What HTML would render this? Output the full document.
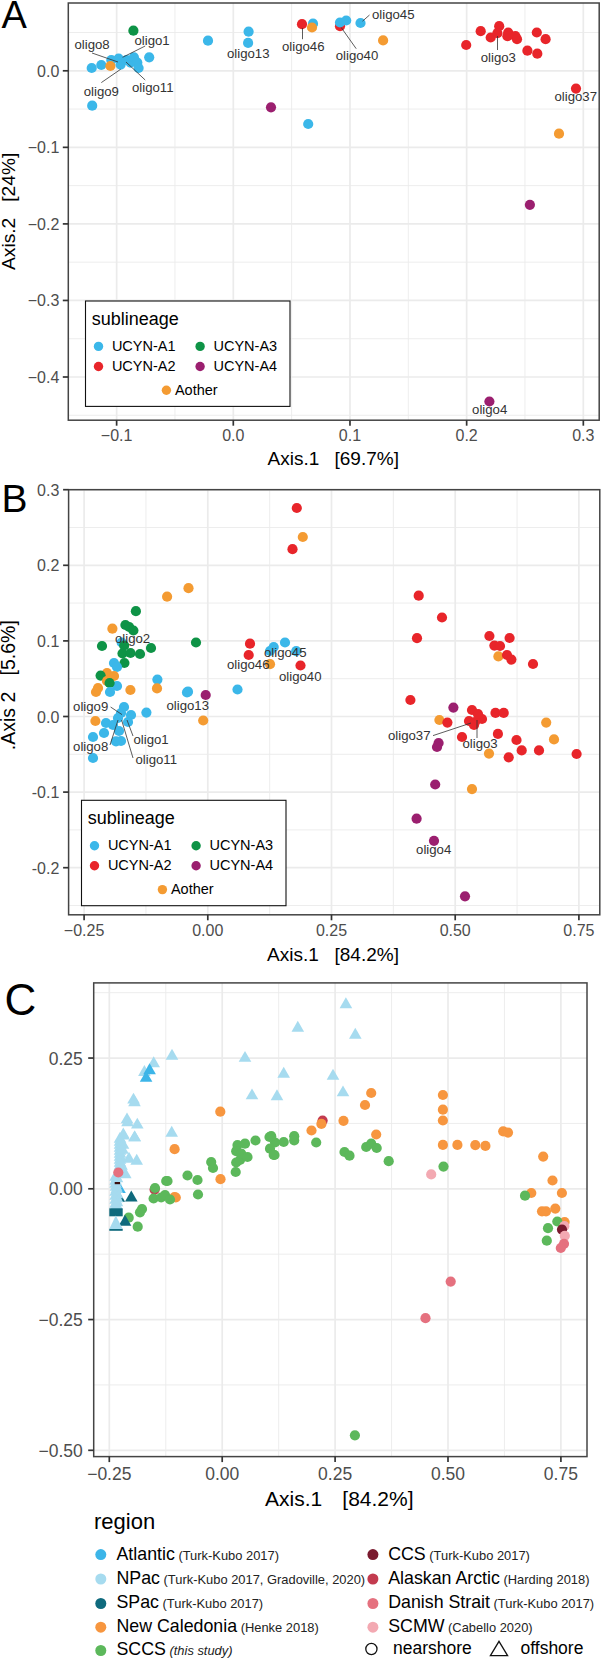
<!DOCTYPE html>
<html><head><meta charset="utf-8"><style>
html,body{margin:0;padding:0;background:#fff;width:601px;height:1658px;overflow:hidden}
svg{display:block;font-family:"Liberation Sans",sans-serif}
text{white-space:pre}
</style></head><body>
<svg width="601" height="1658" viewBox="0 0 601 1658">
<line x1="174.9625" y1="3.0" x2="174.9625" y2="420.2" stroke="#ebebeb" stroke-width="0.9"/>
<line x1="291.63750000000005" y1="3.0" x2="291.63750000000005" y2="420.2" stroke="#ebebeb" stroke-width="0.9"/>
<line x1="408.3125" y1="3.0" x2="408.3125" y2="420.2" stroke="#ebebeb" stroke-width="0.9"/>
<line x1="524.9875" y1="3.0" x2="524.9875" y2="420.2" stroke="#ebebeb" stroke-width="0.9"/>
<line x1="68.3" y1="32.525" x2="599.2" y2="32.525" stroke="#ebebeb" stroke-width="0.9"/>
<line x1="68.3" y1="109.07499999999999" x2="599.2" y2="109.07499999999999" stroke="#ebebeb" stroke-width="0.9"/>
<line x1="68.3" y1="185.625" x2="599.2" y2="185.625" stroke="#ebebeb" stroke-width="0.9"/>
<line x1="68.3" y1="262.175" x2="599.2" y2="262.175" stroke="#ebebeb" stroke-width="0.9"/>
<line x1="68.3" y1="338.725" x2="599.2" y2="338.725" stroke="#ebebeb" stroke-width="0.9"/>
<line x1="68.3" y1="415.27500000000003" x2="599.2" y2="415.27500000000003" stroke="#ebebeb" stroke-width="0.9"/>
<line x1="116.625" y1="3.0" x2="116.625" y2="420.2" stroke="#ebebeb" stroke-width="1.7"/>
<line x1="233.3" y1="3.0" x2="233.3" y2="420.2" stroke="#ebebeb" stroke-width="1.7"/>
<line x1="349.975" y1="3.0" x2="349.975" y2="420.2" stroke="#ebebeb" stroke-width="1.7"/>
<line x1="466.65000000000003" y1="3.0" x2="466.65000000000003" y2="420.2" stroke="#ebebeb" stroke-width="1.7"/>
<line x1="583.325" y1="3.0" x2="583.325" y2="420.2" stroke="#ebebeb" stroke-width="1.7"/>
<line x1="68.3" y1="70.8" x2="599.2" y2="70.8" stroke="#ebebeb" stroke-width="1.7"/>
<line x1="68.3" y1="147.35" x2="599.2" y2="147.35" stroke="#ebebeb" stroke-width="1.7"/>
<line x1="68.3" y1="223.89999999999998" x2="599.2" y2="223.89999999999998" stroke="#ebebeb" stroke-width="1.7"/>
<line x1="68.3" y1="300.45" x2="599.2" y2="300.45" stroke="#ebebeb" stroke-width="1.7"/>
<line x1="68.3" y1="377.0" x2="599.2" y2="377.0" stroke="#ebebeb" stroke-width="1.7"/>
<line x1="145.95000000000002" y1="489.7" x2="145.95000000000002" y2="914.8" stroke="#ebebeb" stroke-width="0.9"/>
<line x1="269.65000000000003" y1="489.7" x2="269.65000000000003" y2="914.8" stroke="#ebebeb" stroke-width="0.9"/>
<line x1="393.35" y1="489.7" x2="393.35" y2="914.8" stroke="#ebebeb" stroke-width="0.9"/>
<line x1="517.05" y1="489.7" x2="517.05" y2="914.8" stroke="#ebebeb" stroke-width="0.9"/>
<line x1="68.6" y1="527.5" x2="599.8" y2="527.5" stroke="#ebebeb" stroke-width="0.9"/>
<line x1="68.6" y1="603.1" x2="599.8" y2="603.1" stroke="#ebebeb" stroke-width="0.9"/>
<line x1="68.6" y1="678.7" x2="599.8" y2="678.7" stroke="#ebebeb" stroke-width="0.9"/>
<line x1="68.6" y1="754.3" x2="599.8" y2="754.3" stroke="#ebebeb" stroke-width="0.9"/>
<line x1="68.6" y1="829.9" x2="599.8" y2="829.9" stroke="#ebebeb" stroke-width="0.9"/>
<line x1="68.6" y1="905.5" x2="599.8" y2="905.5" stroke="#ebebeb" stroke-width="0.9"/>
<line x1="84.10000000000001" y1="489.7" x2="84.10000000000001" y2="914.8" stroke="#ebebeb" stroke-width="1.7"/>
<line x1="207.8" y1="489.7" x2="207.8" y2="914.8" stroke="#ebebeb" stroke-width="1.7"/>
<line x1="331.5" y1="489.7" x2="331.5" y2="914.8" stroke="#ebebeb" stroke-width="1.7"/>
<line x1="455.20000000000005" y1="489.7" x2="455.20000000000005" y2="914.8" stroke="#ebebeb" stroke-width="1.7"/>
<line x1="578.9000000000001" y1="489.7" x2="578.9000000000001" y2="914.8" stroke="#ebebeb" stroke-width="1.7"/>
<line x1="68.6" y1="489.70000000000005" x2="599.8" y2="489.70000000000005" stroke="#ebebeb" stroke-width="1.7"/>
<line x1="68.6" y1="565.3" x2="599.8" y2="565.3" stroke="#ebebeb" stroke-width="1.7"/>
<line x1="68.6" y1="640.9" x2="599.8" y2="640.9" stroke="#ebebeb" stroke-width="1.7"/>
<line x1="68.6" y1="716.5" x2="599.8" y2="716.5" stroke="#ebebeb" stroke-width="1.7"/>
<line x1="68.6" y1="792.1" x2="599.8" y2="792.1" stroke="#ebebeb" stroke-width="1.7"/>
<line x1="68.6" y1="867.7" x2="599.8" y2="867.7" stroke="#ebebeb" stroke-width="1.7"/>
<line x1="165.75" y1="982.9" x2="165.75" y2="1456.6" stroke="#ebebeb" stroke-width="0.9"/>
<line x1="278.65" y1="982.9" x2="278.65" y2="1456.6" stroke="#ebebeb" stroke-width="0.9"/>
<line x1="391.55" y1="982.9" x2="391.55" y2="1456.6" stroke="#ebebeb" stroke-width="0.9"/>
<line x1="504.45" y1="982.9" x2="504.45" y2="1456.6" stroke="#ebebeb" stroke-width="0.9"/>
<line x1="93.7" y1="992.675" x2="587.0" y2="992.675" stroke="#ebebeb" stroke-width="0.9"/>
<line x1="93.7" y1="1123.425" x2="587.0" y2="1123.425" stroke="#ebebeb" stroke-width="0.9"/>
<line x1="93.7" y1="1254.175" x2="587.0" y2="1254.175" stroke="#ebebeb" stroke-width="0.9"/>
<line x1="93.7" y1="1384.925" x2="587.0" y2="1384.925" stroke="#ebebeb" stroke-width="0.9"/>
<line x1="109.29999999999998" y1="982.9" x2="109.29999999999998" y2="1456.6" stroke="#ebebeb" stroke-width="1.7"/>
<line x1="222.2" y1="982.9" x2="222.2" y2="1456.6" stroke="#ebebeb" stroke-width="1.7"/>
<line x1="335.1" y1="982.9" x2="335.1" y2="1456.6" stroke="#ebebeb" stroke-width="1.7"/>
<line x1="448.0" y1="982.9" x2="448.0" y2="1456.6" stroke="#ebebeb" stroke-width="1.7"/>
<line x1="560.9000000000001" y1="982.9" x2="560.9000000000001" y2="1456.6" stroke="#ebebeb" stroke-width="1.7"/>
<line x1="93.7" y1="1058.05" x2="587.0" y2="1058.05" stroke="#ebebeb" stroke-width="1.7"/>
<line x1="93.7" y1="1188.8" x2="587.0" y2="1188.8" stroke="#ebebeb" stroke-width="1.7"/>
<line x1="93.7" y1="1319.55" x2="587.0" y2="1319.55" stroke="#ebebeb" stroke-width="1.7"/>
<line x1="93.7" y1="1450.3" x2="587.0" y2="1450.3" stroke="#ebebeb" stroke-width="1.7"/>
<circle cx="133.4" cy="30.7" r="5.1" fill="#0e9346"/>
<circle cx="208" cy="40.7" r="5.1" fill="#3bb7e9"/>
<circle cx="248.6" cy="31.7" r="5.1" fill="#3bb7e9"/>
<circle cx="248.1" cy="42.9" r="5.1" fill="#3bb7e9"/>
<circle cx="271" cy="107.3" r="5.1" fill="#9b1f6f"/>
<circle cx="308.2" cy="124" r="5.1" fill="#3bb7e9"/>
<circle cx="92.2" cy="105.7" r="5.1" fill="#3bb7e9"/>
<circle cx="91.7" cy="68.0" r="5.1" fill="#3bb7e9"/>
<circle cx="101.3" cy="65" r="5.1" fill="#3bb7e9"/>
<circle cx="111.3" cy="60" r="5.1" fill="#3bb7e9"/>
<circle cx="110.4" cy="66" r="5.1" fill="#f49b32"/>
<circle cx="118.6" cy="58.6" r="5.1" fill="#3bb7e9"/>
<circle cx="120.6" cy="64.6" r="5.1" fill="#3bb7e9"/>
<circle cx="126.6" cy="60" r="5.1" fill="#3bb7e9"/>
<circle cx="130.6" cy="62.6" r="5.1" fill="#3bb7e9"/>
<circle cx="133.9" cy="57.3" r="5.1" fill="#3bb7e9"/>
<circle cx="137.3" cy="62.6" r="5.1" fill="#3bb7e9"/>
<circle cx="138.6" cy="68" r="5.1" fill="#3bb7e9"/>
<circle cx="149.2" cy="57.3" r="5.1" fill="#3bb7e9"/>
<circle cx="313" cy="23.7" r="5.1" fill="#3bb7e9"/>
<circle cx="312" cy="27.5" r="5.1" fill="#f49b32"/>
<circle cx="302" cy="24.2" r="5.1" fill="#e8252a"/>
<circle cx="340" cy="26.2" r="5.1" fill="#e8252a"/>
<circle cx="340" cy="22.5" r="5.1" fill="#3bb7e9"/>
<circle cx="346.2" cy="20.5" r="5.1" fill="#3bb7e9"/>
<circle cx="360.5" cy="23" r="5.1" fill="#3bb7e9"/>
<circle cx="383.1" cy="40.4" r="5.1" fill="#f49b32"/>
<circle cx="466.2" cy="45" r="5.1" fill="#e8252a"/>
<circle cx="480.7" cy="31.2" r="5.1" fill="#e8252a"/>
<circle cx="490.7" cy="37.5" r="5.1" fill="#e8252a"/>
<circle cx="499.2" cy="26.2" r="5.1" fill="#e8252a"/>
<circle cx="497.4" cy="33.2" r="5.1" fill="#e8252a"/>
<circle cx="508.2" cy="32.5" r="5.1" fill="#e8252a"/>
<circle cx="507.4" cy="36.2" r="5.1" fill="#e8252a"/>
<circle cx="515.4" cy="36.2" r="5.1" fill="#e8252a"/>
<circle cx="517" cy="39.2" r="5.1" fill="#e8252a"/>
<circle cx="536.8" cy="32.5" r="5.1" fill="#e8252a"/>
<circle cx="545.6" cy="39.2" r="5.1" fill="#e8252a"/>
<circle cx="527.4" cy="50.7" r="5.1" fill="#e8252a"/>
<circle cx="537.3" cy="53.7" r="5.1" fill="#e8252a"/>
<circle cx="576" cy="88.6" r="5.1" fill="#e8252a"/>
<circle cx="559" cy="133.7" r="5.1" fill="#f49b32"/>
<circle cx="529.9" cy="204.8" r="5.1" fill="#9b1f6f"/>
<circle cx="489.4" cy="401.5" r="5.1" fill="#9b1f6f"/>
<line x1="92" y1="53" x2="118" y2="62" stroke="#333" stroke-width="0.8"/>
<line x1="145.2" y1="46" x2="122.6" y2="57.3" stroke="#333" stroke-width="0.8"/>
<line x1="101.3" y1="82.6" x2="120.6" y2="69.3" stroke="#333" stroke-width="0.8"/>
<line x1="126" y1="62" x2="145.2" y2="80" stroke="#333" stroke-width="0.8"/>
<line x1="302.5" y1="28" x2="302.5" y2="39.2" stroke="#333" stroke-width="0.8"/>
<line x1="341.2" y1="27.5" x2="356.2" y2="48.7" stroke="#333" stroke-width="0.8"/>
<line x1="362.5" y1="21.2" x2="369.5" y2="15" stroke="#333" stroke-width="0.8"/>
<line x1="497.5" y1="36" x2="497.5" y2="50" stroke="#333" stroke-width="0.8"/>
<text x="74.5" y="49.300000000000004" font-size="13.2" fill="#333333" text-anchor="start" >oligo8</text>
<text x="134.5" y="45.1" font-size="13.2" fill="#333333" text-anchor="start" >oligo1</text>
<text x="83.7" y="95.6" font-size="13.2" fill="#333333" text-anchor="start" >oligo9</text>
<text x="132.0" y="91.8" font-size="13.2" fill="#333333" text-anchor="start" >oligo11</text>
<text x="227.0" y="58.1" font-size="13.2" fill="#333333" text-anchor="start" >oligo13</text>
<text x="282.0" y="50.6" font-size="13.2" fill="#333333" text-anchor="start" >oligo46</text>
<text x="335.7" y="60.1" font-size="13.2" fill="#333333" text-anchor="start" >oligo40</text>
<text x="372.0" y="18.6" font-size="13.2" fill="#333333" text-anchor="start" >oligo45</text>
<text x="480.7" y="61.800000000000004" font-size="13.2" fill="#333333" text-anchor="start" >oligo3</text>
<text x="554.5" y="101.1" font-size="13.2" fill="#333333" text-anchor="start" >oligo37</text>
<text x="472.1" y="413.90000000000003" font-size="13.2" fill="#333333" text-anchor="start" >oligo4</text>
<circle cx="188.5" cy="588.2" r="5.1" fill="#f49b32"/>
<circle cx="167.1" cy="596.7" r="5.1" fill="#f49b32"/>
<circle cx="135.9" cy="611.2" r="5.1" fill="#0e9346"/>
<circle cx="112.4" cy="628.7" r="5.1" fill="#f49b32"/>
<circle cx="125.4" cy="625" r="5.1" fill="#0e9346"/>
<circle cx="129.2" cy="627" r="5.1" fill="#0e9346"/>
<circle cx="133.4" cy="630.5" r="5.1" fill="#0e9346"/>
<circle cx="121.7" cy="642.5" r="5.1" fill="#3bb7e9"/>
<circle cx="102" cy="646" r="5.1" fill="#0e9346"/>
<circle cx="124.2" cy="645.5" r="5.1" fill="#0e9346"/>
<circle cx="196" cy="642.5" r="5.1" fill="#0e9346"/>
<circle cx="151" cy="648" r="5.1" fill="#0e9346"/>
<circle cx="122.5" cy="653.5" r="5.1" fill="#0e9346"/>
<circle cx="130.5" cy="653" r="5.1" fill="#0e9346"/>
<circle cx="140" cy="654" r="5.1" fill="#0e9346"/>
<circle cx="124.4" cy="663" r="5.1" fill="#0e9346"/>
<circle cx="114" cy="663" r="5.1" fill="#3bb7e9"/>
<circle cx="117" cy="667" r="5.1" fill="#3bb7e9"/>
<circle cx="107" cy="673" r="5.1" fill="#f49b32"/>
<circle cx="100.6" cy="675.6" r="5.1" fill="#0e9346"/>
<circle cx="114" cy="676" r="5.1" fill="#f49b32"/>
<circle cx="107" cy="681" r="5.1" fill="#f49b32"/>
<circle cx="117" cy="686" r="5.1" fill="#3bb7e9"/>
<circle cx="109.6" cy="683" r="5.1" fill="#0e9346"/>
<circle cx="98" cy="688" r="5.1" fill="#f49b32"/>
<circle cx="96" cy="692" r="5.1" fill="#f49b32"/>
<circle cx="110" cy="692" r="5.1" fill="#3bb7e9"/>
<circle cx="130.4" cy="690" r="5.1" fill="#f49b32"/>
<circle cx="157.4" cy="679.6" r="5.1" fill="#3bb7e9"/>
<circle cx="157" cy="688.4" r="5.1" fill="#f49b32"/>
<circle cx="187" cy="692.4" r="5.1" fill="#3bb7e9"/>
<circle cx="124" cy="707" r="5.1" fill="#3bb7e9"/>
<circle cx="121" cy="713" r="5.1" fill="#3bb7e9"/>
<circle cx="131" cy="715" r="5.1" fill="#3bb7e9"/>
<circle cx="118" cy="718" r="5.1" fill="#3bb7e9"/>
<circle cx="128" cy="722" r="5.1" fill="#3bb7e9"/>
<circle cx="146.4" cy="712.6" r="5.1" fill="#3bb7e9"/>
<circle cx="95.4" cy="721" r="5.1" fill="#f49b32"/>
<circle cx="106" cy="723" r="5.1" fill="#3bb7e9"/>
<circle cx="113" cy="725" r="5.1" fill="#3bb7e9"/>
<circle cx="119" cy="731" r="5.1" fill="#3bb7e9"/>
<circle cx="104" cy="733" r="5.1" fill="#3bb7e9"/>
<circle cx="93" cy="737" r="5.1" fill="#3bb7e9"/>
<circle cx="116" cy="741.4" r="5.1" fill="#3bb7e9"/>
<circle cx="121" cy="741" r="5.1" fill="#3bb7e9"/>
<circle cx="93" cy="758" r="5.1" fill="#3bb7e9"/>
<circle cx="250" cy="643.7" r="5.1" fill="#e8252a"/>
<circle cx="248.7" cy="655" r="5.1" fill="#e8252a"/>
<circle cx="273.7" cy="647" r="5.1" fill="#3bb7e9"/>
<circle cx="285" cy="642.5" r="5.1" fill="#3bb7e9"/>
<circle cx="296.2" cy="651.2" r="5.1" fill="#3bb7e9"/>
<circle cx="270" cy="651" r="5.1" fill="#3bb7e9"/>
<circle cx="270" cy="664.2" r="5.1" fill="#f49b32"/>
<circle cx="300.5" cy="665.5" r="5.1" fill="#e8252a"/>
<circle cx="188" cy="691.7" r="5.1" fill="#3bb7e9"/>
<circle cx="205.7" cy="695" r="5.1" fill="#9b1f6f"/>
<circle cx="237.5" cy="689.5" r="5.1" fill="#3bb7e9"/>
<circle cx="203.2" cy="720.5" r="5.1" fill="#f49b32"/>
<circle cx="296.8" cy="508" r="5.1" fill="#e8252a"/>
<circle cx="302.8" cy="537" r="5.1" fill="#f49b32"/>
<circle cx="292.5" cy="549.2" r="5.1" fill="#e8252a"/>
<circle cx="418.7" cy="595.7" r="5.1" fill="#e8252a"/>
<circle cx="442" cy="617.5" r="5.1" fill="#e8252a"/>
<circle cx="417" cy="638.2" r="5.1" fill="#e8252a"/>
<circle cx="489.4" cy="636" r="5.1" fill="#e8252a"/>
<circle cx="509.6" cy="638" r="5.1" fill="#e8252a"/>
<circle cx="494.4" cy="645.6" r="5.1" fill="#e8252a"/>
<circle cx="500" cy="646" r="5.1" fill="#e8252a"/>
<circle cx="498.4" cy="656.4" r="5.1" fill="#f49b32"/>
<circle cx="507" cy="655" r="5.1" fill="#e8252a"/>
<circle cx="511.4" cy="659.6" r="5.1" fill="#e8252a"/>
<circle cx="533" cy="664" r="5.1" fill="#e8252a"/>
<circle cx="410.4" cy="700" r="5.1" fill="#e8252a"/>
<circle cx="453.4" cy="707.6" r="5.1" fill="#9b1f6f"/>
<circle cx="439.4" cy="720" r="5.1" fill="#f49b32"/>
<circle cx="447.4" cy="722.6" r="5.1" fill="#e8252a"/>
<circle cx="472" cy="710" r="5.1" fill="#e8252a"/>
<circle cx="469" cy="721" r="5.1" fill="#e8252a"/>
<circle cx="475" cy="722" r="5.1" fill="#e8252a"/>
<circle cx="482" cy="719" r="5.1" fill="#e8252a"/>
<circle cx="478" cy="714" r="5.1" fill="#e8252a"/>
<circle cx="474" cy="725" r="5.1" fill="#e8252a"/>
<circle cx="495.5" cy="712.9" r="5.1" fill="#e8252a"/>
<circle cx="503.7" cy="712.9" r="5.1" fill="#e8252a"/>
<circle cx="546.2" cy="722.6" r="5.1" fill="#f49b32"/>
<circle cx="497.9" cy="733.9" r="5.1" fill="#e8252a"/>
<circle cx="516.5" cy="740" r="5.1" fill="#e8252a"/>
<circle cx="554" cy="739.4" r="5.1" fill="#f49b32"/>
<circle cx="521.7" cy="750.4" r="5.1" fill="#e8252a"/>
<circle cx="539" cy="750.4" r="5.1" fill="#e8252a"/>
<circle cx="576.6" cy="754" r="5.1" fill="#e8252a"/>
<circle cx="508.7" cy="757.3" r="5.1" fill="#e8252a"/>
<circle cx="489" cy="753.6" r="5.1" fill="#f49b32"/>
<circle cx="462" cy="737" r="5.1" fill="#e8252a"/>
<circle cx="438.6" cy="743" r="5.1" fill="#9b1f6f"/>
<circle cx="437" cy="747" r="5.1" fill="#9b1f6f"/>
<circle cx="435.2" cy="784.5" r="5.1" fill="#9b1f6f"/>
<circle cx="472" cy="789.1" r="5.1" fill="#f49b32"/>
<circle cx="416.6" cy="818.7" r="5.1" fill="#9b1f6f"/>
<circle cx="434" cy="840.8" r="5.1" fill="#9b1f6f"/>
<circle cx="465" cy="896.3" r="5.1" fill="#9b1f6f"/>
<line x1="110.6" y1="707" x2="122" y2="714.6" stroke="#333" stroke-width="0.8"/>
<line x1="110" y1="745" x2="118" y2="720" stroke="#333" stroke-width="0.8"/>
<line x1="133" y1="736" x2="127" y2="720" stroke="#333" stroke-width="0.8"/>
<line x1="133" y1="758" x2="121.6" y2="720" stroke="#333" stroke-width="0.8"/>
<line x1="433" y1="735.6" x2="471" y2="723" stroke="#333" stroke-width="0.8"/>
<line x1="477" y1="720" x2="477" y2="738" stroke="#333" stroke-width="0.8"/>
<text x="115.0" y="643.1" font-size="13.2" fill="#333333" text-anchor="start" >oligo2</text>
<text x="73.1" y="710.6" font-size="13.2" fill="#333333" text-anchor="start" >oligo9</text>
<text x="73.1" y="750.6" font-size="13.2" fill="#333333" text-anchor="start" >oligo8</text>
<text x="133.5" y="743.6" font-size="13.2" fill="#333333" text-anchor="start" >oligo1</text>
<text x="135.5" y="763.6" font-size="13.2" fill="#333333" text-anchor="start" >oligo11</text>
<text x="166.5" y="710.1" font-size="13.2" fill="#333333" text-anchor="start" >oligo13</text>
<text x="227.0" y="669.3000000000001" font-size="13.2" fill="#333333" text-anchor="start" >oligo46</text>
<text x="264.0" y="656.8000000000001" font-size="13.2" fill="#333333" text-anchor="start" >oligo45</text>
<text x="279.0" y="680.6" font-size="13.2" fill="#333333" text-anchor="start" >oligo40</text>
<text x="388.0" y="739.6" font-size="13.2" fill="#333333" text-anchor="start" >oligo37</text>
<text x="462.5" y="747.6" font-size="13.2" fill="#333333" text-anchor="start" >oligo3</text>
<text x="416.1" y="853.8000000000001" font-size="13.2" fill="#333333" text-anchor="start" >oligo4</text>
<polygon points="119.50,1182.03 125.80,1192.93 113.20,1192.93" fill="#3cb5e8"/>
<polygon points="118.80,1190.93 125.10,1201.84 112.50,1201.84" fill="#0f6a7d"/>
<polygon points="172.00,1048.73 178.30,1059.63 165.70,1059.63" fill="#a6dbef"/>
<polygon points="153.70,1056.33 160.00,1067.23 147.40,1067.23" fill="#a6dbef"/>
<polygon points="144.40,1065.03 150.70,1075.93 138.10,1075.93" fill="#a6dbef"/>
<polygon points="133.50,1092.63 139.80,1103.54 127.20,1103.54" fill="#a6dbef"/>
<polygon points="134.50,1095.23 140.80,1106.13 128.20,1106.13" fill="#a6dbef"/>
<polygon points="127.00,1112.43 133.30,1123.34 120.70,1123.34" fill="#a6dbef"/>
<polygon points="127.50,1115.43 133.80,1126.34 121.20,1126.34" fill="#a6dbef"/>
<polygon points="137.30,1117.63 143.60,1128.54 131.00,1128.54" fill="#a6dbef"/>
<polygon points="123.30,1127.53 129.60,1138.43 117.00,1138.43" fill="#a6dbef"/>
<polygon points="134.60,1130.43 140.90,1141.34 128.30,1141.34" fill="#a6dbef"/>
<polygon points="123.30,1128.63 129.60,1139.54 117.00,1139.54" fill="#a6dbef"/>
<polygon points="134.70,1130.43 141.00,1141.34 128.40,1141.34" fill="#a6dbef"/>
<polygon points="245.00,1050.93 251.30,1061.84 238.70,1061.84" fill="#a6dbef"/>
<polygon points="297.80,1020.73 304.10,1031.63 291.50,1031.63" fill="#a6dbef"/>
<polygon points="355.30,1027.73 361.60,1038.63 349.00,1038.63" fill="#a6dbef"/>
<polygon points="345.90,997.23 352.20,1008.13 339.60,1008.13" fill="#a6dbef"/>
<polygon points="283.70,1066.73 290.00,1077.63 277.40,1077.63" fill="#a6dbef"/>
<polygon points="333.00,1068.73 339.30,1079.63 326.70,1079.63" fill="#a6dbef"/>
<polygon points="252.00,1088.43 258.30,1099.34 245.70,1099.34" fill="#a6dbef"/>
<polygon points="277.00,1089.23 283.30,1100.13 270.70,1100.13" fill="#a6dbef"/>
<polygon points="343.00,1085.43 349.30,1096.34 336.70,1096.34" fill="#a6dbef"/>
<polygon points="171.70,1125.83 178.00,1136.73 165.40,1136.73" fill="#a6dbef"/>
<polygon points="120.00,1131.73 126.30,1142.63 113.70,1142.63" fill="#a6dbef"/>
<polygon points="120.00,1134.73 126.30,1145.63 113.70,1145.63" fill="#a6dbef"/>
<polygon points="120.00,1137.73 126.30,1148.63 113.70,1148.63" fill="#a6dbef"/>
<polygon points="120.00,1140.73 126.30,1151.63 113.70,1151.63" fill="#a6dbef"/>
<polygon points="120.00,1143.73 126.30,1154.63 113.70,1154.63" fill="#a6dbef"/>
<polygon points="120.00,1146.73 126.30,1157.63 113.70,1157.63" fill="#a6dbef"/>
<polygon points="120.00,1149.73 126.30,1160.63 113.70,1160.63" fill="#a6dbef"/>
<polygon points="120.00,1152.73 126.30,1163.63 113.70,1163.63" fill="#a6dbef"/>
<polygon points="120.00,1155.73 126.30,1166.63 113.70,1166.63" fill="#a6dbef"/>
<polygon points="120.00,1158.73 126.30,1169.63 113.70,1169.63" fill="#a6dbef"/>
<polygon points="120.00,1161.73 126.30,1172.63 113.70,1172.63" fill="#a6dbef"/>
<polygon points="123.00,1137.73 129.30,1148.63 116.70,1148.63" fill="#a6dbef"/>
<polygon points="122.50,1142.73 128.80,1153.63 116.20,1153.63" fill="#a6dbef"/>
<polygon points="121.50,1158.73 127.80,1169.63 115.20,1169.63" fill="#a6dbef"/>
<polygon points="125.30,1167.23 131.60,1178.13 119.00,1178.13" fill="#a6dbef"/>
<polygon points="115.60,1169.73 121.90,1180.63 109.30,1180.63" fill="#a6dbef"/>
<polygon points="117.00,1171.23 123.30,1182.13 110.70,1182.13" fill="#a6dbef"/>
<polygon points="115.60,1173.73 121.90,1184.63 109.30,1184.63" fill="#a6dbef"/>
<polygon points="115.60,1176.73 121.90,1187.63 109.30,1187.63" fill="#a6dbef"/>
<polygon points="116.00,1179.73 122.30,1190.63 109.70,1190.63" fill="#a6dbef"/>
<polygon points="116.80,1182.03 123.10,1192.93 110.50,1192.93" fill="#a6dbef"/>
<polygon points="115.60,1184.73 121.90,1195.63 109.30,1195.63" fill="#a6dbef"/>
<polygon points="117.00,1187.23 123.30,1198.13 110.70,1198.13" fill="#a6dbef"/>
<polygon points="115.60,1188.73 121.90,1199.63 109.30,1199.63" fill="#a6dbef"/>
<polygon points="117.00,1191.23 123.30,1202.13 110.70,1202.13" fill="#a6dbef"/>
<polygon points="115.60,1192.73 121.90,1203.63 109.30,1203.63" fill="#a6dbef"/>
<polygon points="117.00,1195.23 123.30,1206.13 110.70,1206.13" fill="#a6dbef"/>
<polygon points="115.60,1196.73 121.90,1207.63 109.30,1207.63" fill="#a6dbef"/>
<polygon points="116.50,1198.73 122.80,1209.63 110.20,1209.63" fill="#a6dbef"/>
<polygon points="129.00,1151.73 135.30,1162.63 122.70,1162.63" fill="#a6dbef"/>
<polygon points="136.70,1153.73 143.00,1164.63 130.40,1164.63" fill="#a6dbef"/>
<polygon points="149.60,1063.33 155.90,1074.23 143.30,1074.23" fill="#3cb5e8"/>
<polygon points="146.10,1070.93 152.40,1081.84 139.80,1081.84" fill="#3cb5e8"/>
<circle cx="118.3" cy="1172.5" r="5.1" fill="#e5717f"/>
<rect x="114.7" y="1182" width="5.3" height="2.2" fill="#3a1010"/>
<polygon points="131.30,1190.53 137.60,1201.43 125.00,1201.43" fill="#0f6a7d"/>
<rect x="109.3" y="1208.3" width="13.4" height="8.0" fill="#0f6a7d"/>
<rect x="109.3" y="1228.8" width="13.4" height="2.0" fill="#0f6a7d"/>
<circle cx="128.7" cy="1217.7" r="5.1" fill="#5cb85b"/>
<polygon points="125.00,1214.73 131.30,1225.63 118.70,1225.63" fill="#0f6a7d"/>
<polygon points="115.8,1215.5 122.7,1229 109.3,1229" fill="#a6dbef"/>
<circle cx="220.3" cy="1111.7" r="5.1" fill="#f7963f"/>
<circle cx="174.6" cy="1149.2" r="5.1" fill="#f7963f"/>
<circle cx="220.5" cy="1179.2" r="5.1" fill="#f7963f"/>
<circle cx="174.5" cy="1197" r="5.1" fill="#f7963f"/>
<circle cx="175.8" cy="1197.5" r="5.1" fill="#f7963f"/>
<circle cx="154.6" cy="1189.6" r="5.1" fill="#c33b4f"/>
<circle cx="166.2" cy="1181" r="5.1" fill="#5cb85b"/>
<circle cx="167.5" cy="1181" r="5.1" fill="#5cb85b"/>
<circle cx="155" cy="1188" r="5.1" fill="#5cb85b"/>
<circle cx="153.6" cy="1198.5" r="5.1" fill="#5cb85b"/>
<circle cx="161.2" cy="1197.5" r="5.1" fill="#5cb85b"/>
<circle cx="165" cy="1195" r="5.1" fill="#5cb85b"/>
<circle cx="170" cy="1199.5" r="5.1" fill="#5cb85b"/>
<circle cx="187.5" cy="1175.5" r="5.1" fill="#5cb85b"/>
<circle cx="197.5" cy="1180" r="5.1" fill="#5cb85b"/>
<circle cx="198" cy="1194.5" r="5.1" fill="#5cb85b"/>
<circle cx="142" cy="1209" r="5.1" fill="#5cb85b"/>
<circle cx="140" cy="1212.3" r="5.1" fill="#5cb85b"/>
<circle cx="137.7" cy="1226.7" r="5.1" fill="#5cb85b"/>
<circle cx="211.2" cy="1162" r="5.1" fill="#5cb85b"/>
<circle cx="213" cy="1168" r="5.1" fill="#5cb85b"/>
<circle cx="235.7" cy="1172" r="5.1" fill="#5cb85b"/>
<circle cx="236.2" cy="1162.5" r="5.1" fill="#5cb85b"/>
<circle cx="240" cy="1160" r="5.1" fill="#5cb85b"/>
<circle cx="237.5" cy="1145" r="5.1" fill="#5cb85b"/>
<circle cx="245" cy="1143.7" r="5.1" fill="#5cb85b"/>
<circle cx="236.2" cy="1151.2" r="5.1" fill="#5cb85b"/>
<circle cx="241.2" cy="1153.7" r="5.1" fill="#5cb85b"/>
<circle cx="247.5" cy="1157" r="5.1" fill="#5cb85b"/>
<circle cx="255.5" cy="1140.5" r="5.1" fill="#5cb85b"/>
<circle cx="269.5" cy="1137" r="5.1" fill="#5cb85b"/>
<circle cx="275" cy="1142.5" r="5.1" fill="#5cb85b"/>
<circle cx="270" cy="1148.7" r="5.1" fill="#5cb85b"/>
<circle cx="274.5" cy="1155" r="5.1" fill="#5cb85b"/>
<circle cx="283.7" cy="1142" r="5.1" fill="#5cb85b"/>
<circle cx="271.2" cy="1136.2" r="5.1" fill="#5cb85b"/>
<circle cx="294.2" cy="1136.2" r="5.1" fill="#5cb85b"/>
<circle cx="294.2" cy="1140.5" r="5.1" fill="#5cb85b"/>
<circle cx="316.2" cy="1142.5" r="5.1" fill="#5cb85b"/>
<circle cx="273.7" cy="1155" r="5.1" fill="#5cb85b"/>
<circle cx="344.5" cy="1152" r="5.1" fill="#5cb85b"/>
<circle cx="349.5" cy="1155.7" r="5.1" fill="#5cb85b"/>
<circle cx="366.2" cy="1147" r="5.1" fill="#5cb85b"/>
<circle cx="371.2" cy="1143.7" r="5.1" fill="#5cb85b"/>
<circle cx="376.7" cy="1148" r="5.1" fill="#5cb85b"/>
<circle cx="388.7" cy="1161.2" r="5.1" fill="#5cb85b"/>
<circle cx="322.6" cy="1120.6" r="5.1" fill="#c33b4f"/>
<circle cx="321.4" cy="1123.9" r="5.1" fill="#f7963f"/>
<circle cx="311.5" cy="1130.5" r="5.1" fill="#f7963f"/>
<circle cx="343.5" cy="1120.8" r="5.1" fill="#f7963f"/>
<circle cx="376.2" cy="1134.5" r="5.1" fill="#f7963f"/>
<circle cx="371.2" cy="1093" r="5.1" fill="#f7963f"/>
<circle cx="365" cy="1105" r="5.1" fill="#f7963f"/>
<circle cx="442.9" cy="1095" r="5.1" fill="#f7963f"/>
<circle cx="442.9" cy="1109.7" r="5.1" fill="#f7963f"/>
<circle cx="442.9" cy="1120.5" r="5.1" fill="#f7963f"/>
<circle cx="442.9" cy="1144.9" r="5.1" fill="#f7963f"/>
<circle cx="457.4" cy="1144.9" r="5.1" fill="#f7963f"/>
<circle cx="475.3" cy="1145.1" r="5.1" fill="#f7963f"/>
<circle cx="485.4" cy="1145.9" r="5.1" fill="#f7963f"/>
<circle cx="503.2" cy="1131.3" r="5.1" fill="#f7963f"/>
<circle cx="508" cy="1132.6" r="5.1" fill="#f7963f"/>
<circle cx="543.2" cy="1156.6" r="5.1" fill="#f7963f"/>
<circle cx="443.5" cy="1166.6" r="5.1" fill="#5cb85b"/>
<circle cx="431.2" cy="1174.4" r="5.1" fill="#f3a9b2"/>
<circle cx="552.5" cy="1180.5" r="5.1" fill="#f7963f"/>
<circle cx="531.3" cy="1193" r="5.1" fill="#f7963f"/>
<circle cx="525" cy="1195.7" r="5.1" fill="#5cb85b"/>
<circle cx="561.9" cy="1193" r="5.1" fill="#f7963f"/>
<circle cx="542" cy="1211.3" r="5.1" fill="#f7963f"/>
<circle cx="546" cy="1211.3" r="5.1" fill="#f7963f"/>
<circle cx="555.3" cy="1208.6" r="5.1" fill="#f7963f"/>
<circle cx="564.6" cy="1222" r="5.1" fill="#f7963f"/>
<circle cx="557.3" cy="1221.5" r="5.1" fill="#5cb85b"/>
<circle cx="564.3" cy="1226.2" r="5.1" fill="#f3a9b2"/>
<circle cx="562" cy="1229.6" r="5.1" fill="#7a1a2e"/>
<circle cx="564.8" cy="1235.8" r="5.1" fill="#f3a9b2"/>
<circle cx="548" cy="1228.2" r="5.1" fill="#5cb85b"/>
<circle cx="546.8" cy="1240.7" r="5.1" fill="#5cb85b"/>
<circle cx="564" cy="1243.8" r="5.1" fill="#e5717f"/>
<circle cx="560.8" cy="1248" r="5.1" fill="#e5717f"/>
<circle cx="450.7" cy="1281.6" r="5.1" fill="#e5717f"/>
<circle cx="425.5" cy="1318.2" r="5.1" fill="#e5717f"/>
<circle cx="354.9" cy="1435.3" r="5.1" fill="#5cb85b"/>
<rect x="68.3" y="3.0" width="530.9000000000001" height="417.2" fill="none" stroke="#444444" stroke-width="1.5"/>
<line x1="116.625" y1="420.2" x2="116.625" y2="425.7" stroke="#333333" stroke-width="1.7"/>
<line x1="233.3" y1="420.2" x2="233.3" y2="425.7" stroke="#333333" stroke-width="1.7"/>
<line x1="349.975" y1="420.2" x2="349.975" y2="425.7" stroke="#333333" stroke-width="1.7"/>
<line x1="466.65000000000003" y1="420.2" x2="466.65000000000003" y2="425.7" stroke="#333333" stroke-width="1.7"/>
<line x1="583.325" y1="420.2" x2="583.325" y2="425.7" stroke="#333333" stroke-width="1.7"/>
<line x1="62.8" y1="70.8" x2="68.3" y2="70.8" stroke="#333333" stroke-width="1.7"/>
<line x1="62.8" y1="147.35" x2="68.3" y2="147.35" stroke="#333333" stroke-width="1.7"/>
<line x1="62.8" y1="223.89999999999998" x2="68.3" y2="223.89999999999998" stroke="#333333" stroke-width="1.7"/>
<line x1="62.8" y1="300.45" x2="68.3" y2="300.45" stroke="#333333" stroke-width="1.7"/>
<line x1="62.8" y1="377.0" x2="68.3" y2="377.0" stroke="#333333" stroke-width="1.7"/>
<rect x="68.6" y="489.7" width="531.1999999999999" height="425.09999999999997" fill="none" stroke="#444444" stroke-width="1.5"/>
<line x1="84.10000000000001" y1="914.8" x2="84.10000000000001" y2="920.3" stroke="#333333" stroke-width="1.7"/>
<line x1="207.8" y1="914.8" x2="207.8" y2="920.3" stroke="#333333" stroke-width="1.7"/>
<line x1="331.5" y1="914.8" x2="331.5" y2="920.3" stroke="#333333" stroke-width="1.7"/>
<line x1="455.20000000000005" y1="914.8" x2="455.20000000000005" y2="920.3" stroke="#333333" stroke-width="1.7"/>
<line x1="578.9000000000001" y1="914.8" x2="578.9000000000001" y2="920.3" stroke="#333333" stroke-width="1.7"/>
<line x1="63.099999999999994" y1="489.70000000000005" x2="68.6" y2="489.70000000000005" stroke="#333333" stroke-width="1.7"/>
<line x1="63.099999999999994" y1="565.3" x2="68.6" y2="565.3" stroke="#333333" stroke-width="1.7"/>
<line x1="63.099999999999994" y1="640.9" x2="68.6" y2="640.9" stroke="#333333" stroke-width="1.7"/>
<line x1="63.099999999999994" y1="716.5" x2="68.6" y2="716.5" stroke="#333333" stroke-width="1.7"/>
<line x1="63.099999999999994" y1="792.1" x2="68.6" y2="792.1" stroke="#333333" stroke-width="1.7"/>
<line x1="63.099999999999994" y1="867.7" x2="68.6" y2="867.7" stroke="#333333" stroke-width="1.7"/>
<rect x="93.7" y="982.9" width="493.3" height="473.69999999999993" fill="none" stroke="#444444" stroke-width="1.5"/>
<line x1="109.29999999999998" y1="1456.6" x2="109.29999999999998" y2="1462.1" stroke="#333333" stroke-width="1.7"/>
<line x1="222.2" y1="1456.6" x2="222.2" y2="1462.1" stroke="#333333" stroke-width="1.7"/>
<line x1="335.1" y1="1456.6" x2="335.1" y2="1462.1" stroke="#333333" stroke-width="1.7"/>
<line x1="448.0" y1="1456.6" x2="448.0" y2="1462.1" stroke="#333333" stroke-width="1.7"/>
<line x1="560.9000000000001" y1="1456.6" x2="560.9000000000001" y2="1462.1" stroke="#333333" stroke-width="1.7"/>
<line x1="88.2" y1="1058.05" x2="93.7" y2="1058.05" stroke="#333333" stroke-width="1.7"/>
<line x1="88.2" y1="1188.8" x2="93.7" y2="1188.8" stroke="#333333" stroke-width="1.7"/>
<line x1="88.2" y1="1319.55" x2="93.7" y2="1319.55" stroke="#333333" stroke-width="1.7"/>
<line x1="88.2" y1="1450.3" x2="93.7" y2="1450.3" stroke="#333333" stroke-width="1.7"/>
<text x="116.625" y="441.3" font-size="16" fill="#4d4d4d" text-anchor="middle" >−0.1</text>
<text x="233.3" y="441.3" font-size="16" fill="#4d4d4d" text-anchor="middle" >0.0</text>
<text x="349.975" y="441.3" font-size="16" fill="#4d4d4d" text-anchor="middle" >0.1</text>
<text x="466.65000000000003" y="441.3" font-size="16" fill="#4d4d4d" text-anchor="middle" >0.2</text>
<text x="583.325" y="441.3" font-size="16" fill="#4d4d4d" text-anchor="middle" >0.3</text>
<text x="59.3" y="76.8" font-size="16" fill="#4d4d4d" text-anchor="end" >0.0</text>
<text x="59.3" y="153.35" font-size="16" fill="#4d4d4d" text-anchor="end" >−0.1</text>
<text x="59.3" y="229.89999999999998" font-size="16" fill="#4d4d4d" text-anchor="end" >−0.2</text>
<text x="59.3" y="306.45" font-size="16" fill="#4d4d4d" text-anchor="end" >−0.3</text>
<text x="59.3" y="383.0" font-size="16" fill="#4d4d4d" text-anchor="end" >−0.4</text>
<text x="267.5" y="464.7" font-size="19" fill="#000" text-anchor="start" >Axis.1</text>
<text x="334.5" y="464.7" font-size="19" fill="#000" text-anchor="start" >[69.7%]</text>
<text transform="translate(15,270.0) rotate(-90)" font-size="19.2" fill="#000">Axis.2   [24%]</text>
<text x="1.5" y="27.8" font-size="38" fill="#000" text-anchor="start" >A</text>
<text x="84.10000000000001" y="936.3" font-size="16" fill="#4d4d4d" text-anchor="middle" >−0.25</text>
<text x="207.8" y="936.3" font-size="16" fill="#4d4d4d" text-anchor="middle" >0.00</text>
<text x="331.5" y="936.3" font-size="16" fill="#4d4d4d" text-anchor="middle" >0.25</text>
<text x="455.20000000000005" y="936.3" font-size="16" fill="#4d4d4d" text-anchor="middle" >0.50</text>
<text x="578.9000000000001" y="936.3" font-size="16" fill="#4d4d4d" text-anchor="middle" >0.75</text>
<text x="59.3" y="495.70000000000005" font-size="16" fill="#4d4d4d" text-anchor="end" >0.3</text>
<text x="59.3" y="571.3" font-size="16" fill="#4d4d4d" text-anchor="end" >0.2</text>
<text x="59.3" y="646.9" font-size="16" fill="#4d4d4d" text-anchor="end" >0.1</text>
<text x="59.3" y="722.5" font-size="16" fill="#4d4d4d" text-anchor="end" >0.0</text>
<text x="59.3" y="798.1" font-size="16" fill="#4d4d4d" text-anchor="end" >-0.1</text>
<text x="59.3" y="873.7" font-size="16" fill="#4d4d4d" text-anchor="end" >-0.2</text>
<text x="267.0" y="960.5" font-size="19" fill="#000" text-anchor="start" >Axis.1</text>
<text x="334.5" y="960.5" font-size="19" fill="#000" text-anchor="start" >[84.2%]</text>
<text transform="translate(15,750.2) rotate(-90)" font-size="19.5" fill="#000">.Axis 2   [5.6%]</text>
<text x="1.5" y="512.3" font-size="39" fill="#000" text-anchor="start" >B</text>
<text x="109.29999999999998" y="1480.0" font-size="17.5" fill="#4d4d4d" text-anchor="middle" >−0.25</text>
<text x="222.2" y="1480.0" font-size="17.5" fill="#4d4d4d" text-anchor="middle" >0.00</text>
<text x="335.1" y="1480.0" font-size="17.5" fill="#4d4d4d" text-anchor="middle" >0.25</text>
<text x="448.0" y="1480.0" font-size="17.5" fill="#4d4d4d" text-anchor="middle" >0.50</text>
<text x="560.9000000000001" y="1480.0" font-size="17.5" fill="#4d4d4d" text-anchor="middle" >0.75</text>
<text x="82.8" y="1064.55" font-size="17.5" fill="#4d4d4d" text-anchor="end" >0.25</text>
<text x="82.8" y="1195.3" font-size="17.5" fill="#4d4d4d" text-anchor="end" >0.00</text>
<text x="82.8" y="1326.05" font-size="17.5" fill="#4d4d4d" text-anchor="end" >−0.25</text>
<text x="82.8" y="1456.8" font-size="17.5" fill="#4d4d4d" text-anchor="end" >−0.50</text>
<text x="265.0" y="1506.4" font-size="21" fill="#000" text-anchor="start" >Axis.1</text>
<text x="342.3" y="1506.4" font-size="21" fill="#000" text-anchor="start" >[84.2%]</text>
<text x="4.5" y="1015.0" font-size="44" fill="#000" text-anchor="start" >C</text>
<rect x="85.5" y="301.0" width="204.5" height="105.4" fill="#fff" stroke="#111" stroke-width="1.1"/>
<text x="91.7" y="324.7" font-size="18" fill="#000" text-anchor="start" >sublineage</text>
<circle cx="98.5" cy="346.4" r="4.7" fill="#3bb7e9"/>
<text x="111.9" y="351.0" font-size="14.5" fill="#000" text-anchor="start" >UCYN-A1</text>
<circle cx="98.5" cy="366.5" r="4.7" fill="#e8252a"/>
<text x="111.9" y="371.1" font-size="14.5" fill="#000" text-anchor="start" >UCYN-A2</text>
<circle cx="200.1" cy="346.4" r="4.7" fill="#0e9346"/>
<text x="213.5" y="351.0" font-size="14.5" fill="#000" text-anchor="start" >UCYN-A3</text>
<circle cx="200.1" cy="366.5" r="4.7" fill="#9b1f6f"/>
<text x="213.5" y="371.1" font-size="14.5" fill="#000" text-anchor="start" >UCYN-A4</text>
<circle cx="166.4" cy="390.3" r="4.7" fill="#f49b32"/>
<text x="174.9" y="395.0" font-size="14.5" fill="#000" text-anchor="start" >Aother</text>
<rect x="81.5" y="800.3" width="204.5" height="105.4" fill="#fff" stroke="#111" stroke-width="1.1"/>
<text x="87.7" y="824.0" font-size="18" fill="#000" text-anchor="start" >sublineage</text>
<circle cx="94.5" cy="845.6999999999999" r="4.7" fill="#3bb7e9"/>
<text x="107.9" y="850.3" font-size="14.5" fill="#000" text-anchor="start" >UCYN-A1</text>
<circle cx="94.5" cy="865.8" r="4.7" fill="#e8252a"/>
<text x="107.9" y="870.4" font-size="14.5" fill="#000" text-anchor="start" >UCYN-A2</text>
<circle cx="196.1" cy="845.6999999999999" r="4.7" fill="#0e9346"/>
<text x="209.5" y="850.3" font-size="14.5" fill="#000" text-anchor="start" >UCYN-A3</text>
<circle cx="196.1" cy="865.8" r="4.7" fill="#9b1f6f"/>
<text x="209.5" y="870.4" font-size="14.5" fill="#000" text-anchor="start" >UCYN-A4</text>
<circle cx="162.4" cy="889.5999999999999" r="4.7" fill="#f49b32"/>
<text x="170.9" y="894.3" font-size="14.5" fill="#000" text-anchor="start" >Aother</text>
<text x="94.0" y="1529.3" font-size="22" fill="#000" text-anchor="start" >region</text>
<circle cx="100.8" cy="1554.6" r="5.5" fill="#3cb5e8"/>
<text x="116.5" y="1559.5" font-size="17.8" fill="#000">Atlantic<tspan font-size="12.9" fill="#222"> (Turk-Kubo 2017)</tspan></text>
<circle cx="100.8" cy="1579.0" r="5.5" fill="#a6dbef"/>
<text x="116.5" y="1583.9" font-size="17.8" fill="#000">NPac<tspan font-size="12.9" fill="#222"> (Turk-Kubo 2017, Gradoville, 2020)</tspan></text>
<circle cx="100.8" cy="1603.5" r="5.5" fill="#0f6a7d"/>
<text x="116.5" y="1608.4" font-size="17.8" fill="#000">SPac<tspan font-size="12.9" fill="#222"> (Turk-Kubo 2017)</tspan></text>
<circle cx="100.8" cy="1627.2" r="5.5" fill="#f7963f"/>
<text x="116.5" y="1632.1000000000001" font-size="17.8" fill="#000">New Caledonia<tspan font-size="12.9" fill="#222"> (Henke 2018)</tspan></text>
<circle cx="100.8" cy="1650.5" r="5.5" fill="#5cb85b"/>
<text x="116.5" y="1655.4" font-size="17.8" fill="#000">SCCS<tspan font-size="12.9" fill="#222" font-style="italic"> (this study)</tspan></text>
<circle cx="372.9" cy="1554.6" r="5.5" fill="#7a1a2e"/>
<text x="388.2" y="1559.5" font-size="17.8" fill="#000">CCS<tspan font-size="12.9" fill="#222"> (Turk-Kubo 2017)</tspan></text>
<circle cx="372.9" cy="1579.0" r="5.5" fill="#c33b4f"/>
<text x="388.2" y="1583.9" font-size="17.8" fill="#000">Alaskan Arctic<tspan font-size="12.9" fill="#222"> (Harding 2018)</tspan></text>
<circle cx="372.9" cy="1603.5" r="5.5" fill="#e5717f"/>
<text x="388.2" y="1608.4" font-size="17.8" fill="#000">Danish Strait<tspan font-size="12.9" fill="#222"> (Turk-Kubo 2017)</tspan></text>
<circle cx="372.9" cy="1627.2" r="5.5" fill="#f3a9b2"/>
<text x="388.2" y="1632.1000000000001" font-size="17.8" fill="#000">SCMW<tspan font-size="12.9" fill="#222"> (Cabello 2020)</tspan></text>
<circle cx="371.4" cy="1649" r="5.6" fill="none" stroke="#111" stroke-width="1.3"/>
<text x="393.0" y="1654.4" font-size="17.5" fill="#000" text-anchor="start" >nearshore</text>
<polygon points="499,1641.3 507.6,1655.6 490.4,1655.6" fill="none" stroke="#111" stroke-width="1.3"/>
<text x="520.5" y="1654.4" font-size="17.5" fill="#000" text-anchor="start" >offshore</text>
</svg></body></html>
